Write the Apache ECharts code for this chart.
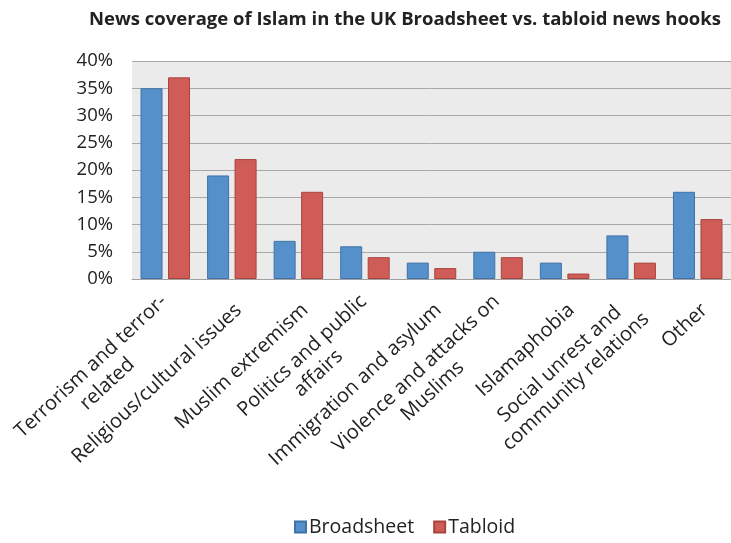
<!DOCTYPE html>
<html>
<head>
<meta charset="utf-8">
<script src="https://cdn.jsdelivr.net/npm/echarts@6/dist/echarts.min.js"></script>
<style>
  html, body { margin: 0; padding: 0; background: #fff; }
  #chart { width: 731px; height: 543px; }
</style>
</head>
<body>
<div id="chart"></div>
<script>
const categories = [
  'Terrorism and terror-\nrelated',
  'Religious/cultural issues',
  'Muslim extremism',
  'Politics and public\naffairs',
  'Immigration and asylum',
  'Violence and attacks on\nMuslims',
  'Islamaphobia',
  'Social unrest and\ncommunity relations',
  'Other'
]
const broadsheet = [35, 19, 7, 6, 3, 5, 3, 8, 16]
const tabloid = [37, 22, 16, 4, 2, 4, 1, 3, 11]

const chart = echarts.init(document.getElementById('chart'))
chart.setOption({
  animation: false,
  title: {
    text: 'News coverage of Islam in the UK Broadsheet vs. tabloid news hooks',
    left: 400,
    textAlign: 'center',
    top: 5,
    textStyle: {
      fontFamily: 'Open Sans',
      fontWeight: 'bold',
      fontSize: 18.5,
      color: '#222'
    }
  },
  legend: {
    bottom: 1,
    left: 289,
    itemWidth: 11,
    itemHeight: 11,
    itemGap: 19,
    icon: 'rect',
    textStyle: { fontFamily: 'Open Sans', fontSize: 19.5, color: '#222', padding: [0, 0, 0, -2] },
    data: ['Broadsheet', 'Tabloid']
  },
  grid: {
    left: 132,
    right: 0,
    top: 61,
    bottom: 264,
    show: true,
    backgroundColor: '#ebebeb',
    borderWidth: 0
  },
  xAxis: {
    type: 'category',
    data: categories,
    axisLine: { lineStyle: { color: '#a0a0a0' } },
    axisTick: { show: false },
    axisLabel: {
      rotate: 43,
      interval: 0,
      margin: 21,
      color: '#222',
      formatter: function (v) {
        return v.split('\n').map(function (s) { return '{c|' + s + '}' }).join('\n')
      },
      padding: [20, 0, 0, 0],
      rich: {
        c: {
          align: 'center',
          fontFamily: 'Open Sans',
          fontSize: 20,
          lineHeight: 24,
          color: '#222'
        }
      }
    }
  },
  yAxis: {
    type: 'value',
    min: 0,
    max: 40,
    interval: 5,
    axisLabel: {
      formatter: '{value}%',
      fontFamily: 'Open Sans',
      fontSize: 18.5,
      color: '#222',
      margin: 19
    },
    splitLine: { lineStyle: { color: '#a8a8a8', width: 1 } }
  },
  series: [
    {
      name: 'Broadsheet',
      type: 'bar',
      data: broadsheet,
      barWidth: 22,
      barGap: '25%',
      itemStyle: { color: '#5590ca', borderColor: '#3f72a8', borderWidth: 1 }
    },
    {
      name: 'Tabloid',
      type: 'bar',
      data: tabloid,
      barWidth: 22,
      itemStyle: { color: '#cf5c57', borderColor: '#a8443f', borderWidth: 1 }
    }
  ]
})
</script>
</body>
</html>
